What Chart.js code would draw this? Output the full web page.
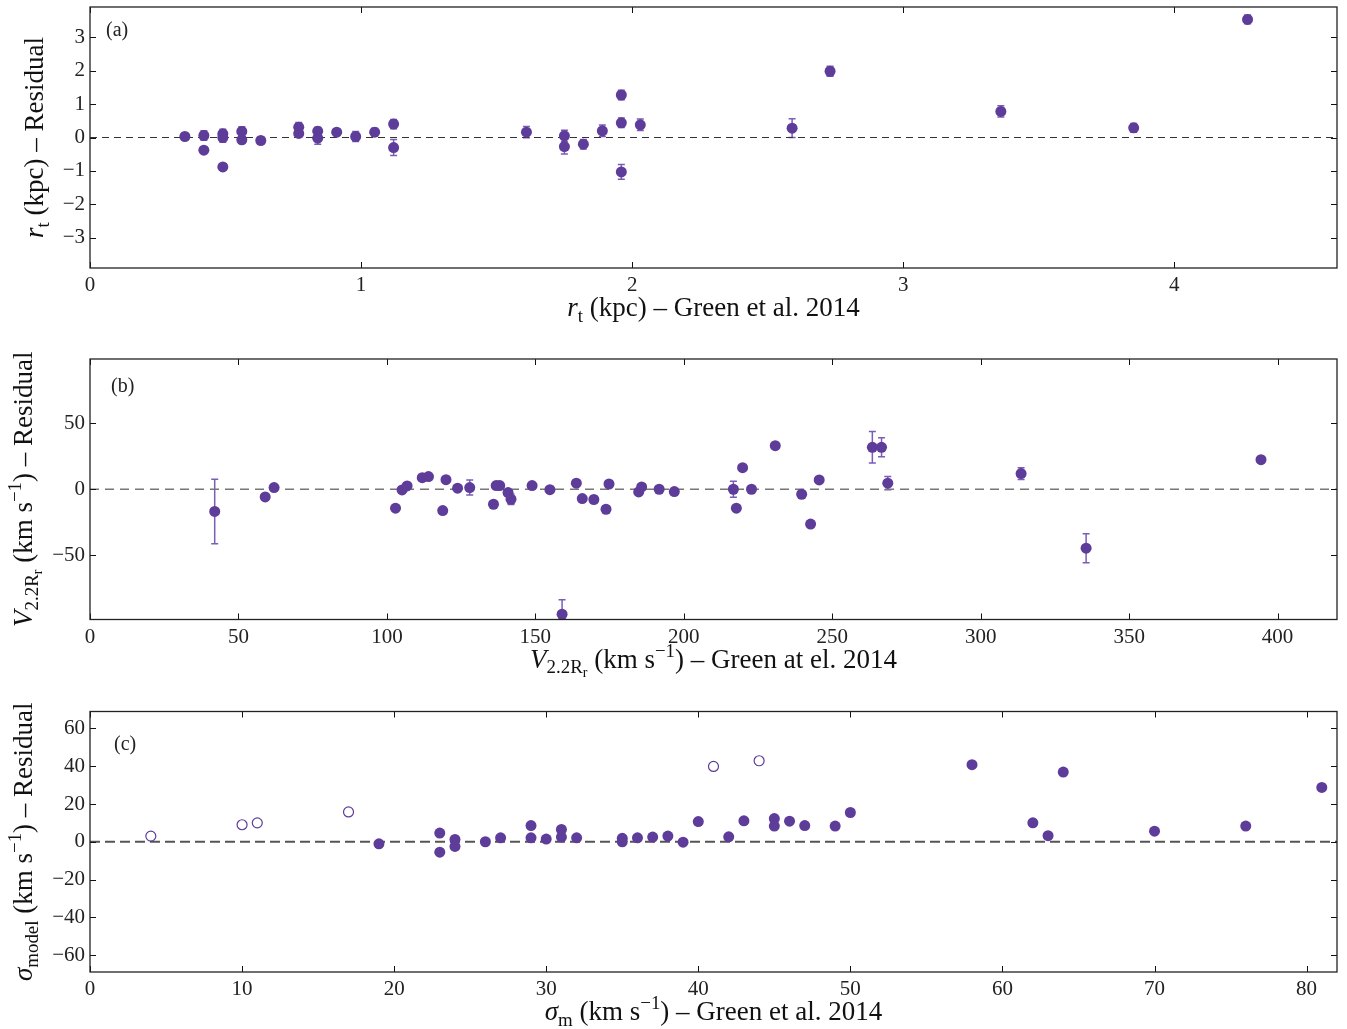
<!DOCTYPE html>
<html>
<head>
<meta charset="utf-8">
<script src="https://cdn.jsdelivr.net/npm/chart.js@4.4.1/dist/chart.umd.min.js"></script>
<style>
  body { margin: 0; background: #fff; }
  #wrap { position: relative; width: 1347px; height: 1029px; }
  canvas { position: absolute; left: 0; }
</style>
</head>
<body>
<div id="wrap">
  <canvas id="chartA" width="1347" height="330" style="top:0px;width:1347px;height:330px"></canvas>
  <canvas id="chartB" width="1347" height="360" style="top:330px;width:1347px;height:360px"></canvas>
  <canvas id="chartC" width="1347" height="339" style="top:690px;width:1347px;height:339px"></canvas>
</div>
<script>
const purple = '#5e3c99';
const errColor = '#7a5db6';
const serif = "'Liberation Serif', 'DejaVu Serif', serif";

// (a) tidal radius
const rtGreen = [0.35, 0.42, 0.42, 0.49, 0.49, 0.49, 0.56, 0.56, 0.63, 0.77, 0.77, 0.84, 0.84, 0.91, 0.98, 1.05, 1.12, 1.12,
                 1.61, 1.75, 1.75, 1.82, 1.89, 1.96, 1.96, 1.96, 2.03, 2.59, 2.73, 3.36, 3.85, 4.27];
const rtResid = [0.03, 0.06, -0.38, 0.11, 0.0, -0.88, 0.18, -0.07, -0.09, 0.31, 0.12, 0.19, -0.02, 0.16, 0.03, 0.16, 0.40, -0.30,
                 0.16, 0.05, -0.27, -0.20, 0.20, 1.27, 0.44, -1.03, 0.38, 0.28, 1.98, 0.78, 0.29, 3.53];
const rtErr   = [0.05, 0.14, 0.08, 0.14, 0.14, 0.08, 0.14, 0.10, 0.10, 0.14, 0.10, 0.12, 0.18, 0.10, 0.15, 0.12, 0.14, 0.24,
                 0.17, 0.17, 0.22, 0.14, 0.17, 0.14, 0.14, 0.22, 0.17, 0.28, 0.15, 0.17, 0.13, 0.13];
const rtXTicks = [0, 1, 2, 3, 4];
const rtYTicks = [-3, -2, -1, 0, 1, 2, 3];

// (b) rotation velocity at 2.2 R_r
const vGreen = [42.0, 59.0, 62.0, 102.9, 105.1, 106.8, 111.9, 114.0, 118.8, 119.9, 123.8, 127.9, 135.9, 136.8, 138.0, 140.8,
                141.8, 148.9, 154.9, 159.0, 163.8, 165.8, 169.7, 173.8, 174.8, 184.8, 185.8, 191.7, 196.8, 216.7, 217.7,
                219.8, 222.8, 230.8, 239.7, 242.7, 245.6, 263.5, 266.6, 268.7, 313.6, 335.5, 394.4];
const vResid = [-16.9, -5.8, 1.3, -14.4, -0.5, 2.5, 8.8, 9.6, -16.2, 7.3, 0.8, 1.3, -11.4, 2.8, 2.8, -2.5,
                -7.6, 2.8, -0.3, -95.0, 4.6, -7.1, -7.8, -15.2, 4.0, -2.0, 1.8, 0.0, -1.8, 0.0, -14.4,
                16.4, 0.0, 33.1, -3.8, -26.5, 7.1, 31.9, 31.9, 4.6, 11.9, -44.8, 22.5];
const vErr   = [24.5, 0, 0, 0, 0, 0, 0, 0, 0, 0, 0, 5.7, 0, 0, 0, 0,
                4.0, 0, 0, 11.0, 0, 0, 0, 0, 0, 0, 0, 0, 0, 6.0, 0,
                0, 0, 0, 0, 0, 0, 11.9, 7.2, 5.0, 4.5, 11.0, 0];
const vXTicks = [0, 50, 100, 150, 200, 250, 300, 350, 400];
const vYTicks = [-50, 0, 50];

// (c) velocity dispersion
const sigGreen = [19, 23, 23, 24, 24, 26, 27, 29, 29, 30, 31, 31, 32, 35, 35, 36, 37, 38, 39, 40, 42, 43, 45, 45,
                  46, 47, 49, 50, 58, 62, 63, 64, 70, 76, 81];
const sigResid = [-1.1, 4.6, -5.5, 1.2, -2.5, 0.0, 2.1, 8.6, 2.1, 1.4, 6.5, 2.5, 2.1, 1.8, 0.0, 2.1, 2.5, 3.0, -0.2, 10.7,
                  2.6, 11.1, 12.3, 8.3, 10.9, 8.6, 8.3, 15.5, 40.8, 10.0, 3.2, 36.9, 5.6, 8.3, 28.8];
const sigOpenGreen = [4, 10, 11, 17, 41, 44];
const sigOpenResid = [3.0, 9.0, 10.0, 15.8, 39.9, 42.9];
const sigXTicks = [0, 10, 20, 30, 40, 50, 60, 70, 80];
const sigYTicks = [-60, -40, -20, 0, 20, 40, 60];

function toPoints(xs, ys) {
  return xs.map((x, i) => ({ x: x, y: ys[i] }));
}

function fmt(v) {
  return String(v).replace('-', '\u2212');
}

// draw text with italic / sub / sup pieces, centred on x
function drawRich(ctx, parts, x, y, size) {
  const pieces = parts.map(p => {
    let fs = size, dy = 0;
    if (p[1] === 'sub') { fs = size * 0.7; dy = size * 0.22; }
    if (p[1] === 'ssub') { fs = size * 0.52; dy = size * 0.36; }
    if (p[1] === 'sup') { fs = size * 0.7; dy = -size * 0.4; }
    const font = (p[1] === 'it' ? 'italic ' : '') + fs.toFixed(1) + 'px ' + serif;
    return { text: p[0], font: font, dy: dy };
  });
  let total = 0;
  pieces.forEach(pc => { ctx.font = pc.font; total += ctx.measureText(pc.text).width; });
  let cx = x - total / 2;
  ctx.textAlign = 'left';
  ctx.textBaseline = 'alphabetic';
  pieces.forEach(pc => {
    ctx.font = pc.font;
    ctx.fillText(pc.text, cx, y + pc.dy);
    cx += ctx.measureText(pc.text).width;
  });
}

function panelPlugin(o) {
  return {
    id: 'panel_' + o.letter,
    beforeDatasetsDraw(chart) {
      const ctx = chart.ctx, xs = chart.scales.x, ys = chart.scales.y, a = chart.chartArea;
      ctx.save();
      ctx.beginPath();
      ctx.rect(a.left, a.top, a.right - a.left, a.bottom - a.top);
      ctx.clip();
      ctx.strokeStyle = errColor;
      ctx.lineWidth = 1.5;
      chart.data.datasets.forEach(ds => {
        if (!ds.errors) return;
        ds.data.forEach((p, i) => {
          const e = ds.errors[i];
          if (!e) return;
          const px = xs.getPixelForValue(p.x);
          const y1 = ys.getPixelForValue(p.y - e), y2 = ys.getPixelForValue(p.y + e);
          ctx.beginPath();
          ctx.moveTo(px, y1); ctx.lineTo(px, y2);
          ctx.moveTo(px - 3.5, y1); ctx.lineTo(px + 3.5, y1);
          ctx.moveTo(px - 3.5, y2); ctx.lineTo(px + 3.5, y2);
          ctx.stroke();
        });
      });
      ctx.restore();
    },
    afterDraw(chart) {
      const ctx = chart.ctx, xs = chart.scales.x, ys = chart.scales.y, a = chart.chartArea;
      ctx.save();
      // inward ticks on all four sides
      ctx.strokeStyle = '#111';
      ctx.lineWidth = 1;
      ctx.beginPath();
      xs.ticks.forEach(t => {
        const px = Math.round(xs.getPixelForValue(t.value)) + 0.5;
        ctx.moveTo(px, a.bottom); ctx.lineTo(px, a.bottom - 6);
        ctx.moveTo(px, a.top); ctx.lineTo(px, a.top + 6);
      });
      ys.ticks.forEach(t => {
        const py = Math.round(ys.getPixelForValue(t.value)) + 0.5;
        ctx.moveTo(a.left, py); ctx.lineTo(a.left + 6, py);
        ctx.moveTo(a.right, py); ctx.lineTo(a.right - 6, py);
      });
      ctx.stroke();
      // frame
      ctx.strokeStyle = '#222';
      ctx.lineWidth = 1.3;
      ctx.strokeRect(a.left, a.top, a.right - a.left, a.bottom - a.top);
      // panel letter
      ctx.fillStyle = '#222';
      ctx.font = '20px ' + serif;
      ctx.textAlign = 'left';
      ctx.textBaseline = 'middle';
      ctx.fillText('(' + o.letter + ')', a.left + o.letterDx, a.top + o.letterDy);
      // axis titles
      ctx.fillStyle = '#111';
      drawRich(ctx, o.xTitle, (a.left + a.right) / 2, a.bottom + 48, 27);
      ctx.translate(o.yTitleX, (a.top + a.bottom) / 2);
      ctx.rotate(-Math.PI / 2);
      drawRich(ctx, o.yTitle, 0, 0, 27);
      ctx.restore();
    }
  };
}

function makePanel(id, o) {
  const zeroLine = {
    type: 'line',
    data: [{ x: o.xMin, y: 0 }, { x: o.xMax, y: 0 }],
    borderColor: o.zero.color,
    borderWidth: o.zero.width,
    borderDash: o.zero.dash,
    pointRadius: 0,
    order: 3
  };
  const datasets = [zeroLine].concat(o.sets);
  const tickFont = { family: serif, size: 21 };
  new Chart(document.getElementById(id).getContext('2d'), {
    type: 'scatter',
    data: { datasets: datasets },
    options: {
      responsive: false,
      animation: false,
      devicePixelRatio: 1,
      layout: { padding: { top: o.padTop, right: 10, left: 0, bottom: 0 } },
      plugins: { legend: { display: false }, tooltip: { enabled: false } },
      scales: {
        x: {
          type: 'linear',
          min: o.xMin, max: o.xMax,
          grid: { display: false, drawTicks: false },
          border: { display: false },
          afterBuildTicks: s => { s.ticks = o.xTicks.map(v => ({ value: v })); },
          afterFit: s => { s.height = o.xAxisH; s.paddingLeft = 0; s.paddingRight = 0; },
          ticks: { color: '#222', font: tickFont, padding: 5, maxRotation: 0, autoSkip: false, callback: v => fmt(v) }
        },
        y: {
          type: 'linear',
          min: o.yMin, max: o.yMax,
          grid: { display: false, drawTicks: false },
          border: { display: false },
          afterBuildTicks: s => { s.ticks = o.yTicks.map(v => ({ value: v })); },
          afterFit: s => { s.width = 90; s.paddingTop = 0; s.paddingBottom = 0; },
          ticks: { color: '#222', font: tickFont, padding: 5, autoSkip: false, callback: v => fmt(v) }
        }
      }
    },
    plugins: [panelPlugin(o)]
  });
}

const filled = (xs, ys, errs) => ({
  data: toPoints(xs, ys),
  errors: errs,
  backgroundColor: purple,
  borderColor: purple,
  borderWidth: 0,
  pointRadius: 5.5,
  order: 1
});

makePanel('chartA', {
  letter: 'a', letterDx: 16, letterDy: 24,
  xMin: 0, xMax: 4.6, yMin: -3.9, yMax: 3.9,
  xTicks: rtXTicks, yTicks: rtYTicks,
  padTop: 7, xAxisH: 62, yTitleX: 43,
  zero: { color: '#333', width: 1.2, dash: [7, 5] },
  sets: [filled(rtGreen, rtResid, rtErr)],
  xTitle: [['r', 'it'], ['t', 'sub'], [' (kpc) \u2013 Green et al. 2014', '']],
  yTitle: [['r', 'it'], ['t', 'sub'], [' (kpc) \u2013 Residual', '']]
});

makePanel('chartB', {
  letter: 'b', letterDx: 21, letterDy: 28,
  xMin: 0, xMax: 420, yMin: -99, yMax: 99,
  xTicks: vXTicks, yTicks: vYTicks,
  padTop: 29, xAxisH: 70.5, yTitleX: 32,
  zero: { color: '#777', width: 1.6, dash: [9, 6] },
  sets: [filled(vGreen, vResid, vErr)],
  xTitle: [['V', 'it'], ['2.2R', 'sub'], ['r', 'ssub'], [' (km s', ''], ['\u22121', 'sup'], [') \u2013 Green at el. 2014', '']],
  yTitle: [['V', 'it'], ['2.2R', 'sub'], ['r', 'ssub'], [' (km s', ''], ['\u22121', 'sup'], [') \u2013 Residual', '']]
});

makePanel('chartC', {
  letter: 'c', letterDx: 24, letterDy: 33,
  xMin: 0, xMax: 82, yMin: -69, yMax: 69,
  xTicks: sigXTicks, yTicks: sigYTicks,
  padTop: 21.5, xAxisH: 57, yTitleX: 32,
  zero: { color: '#555', width: 2, dash: [10, 5] },
  sets: [
    filled(sigGreen, sigResid, null),
    {
      data: toPoints(sigOpenGreen, sigOpenResid),
      backgroundColor: 'rgba(0,0,0,0)',
      borderColor: purple,
      borderWidth: 1.2,
      pointRadius: 5,
      order: 1
    }
  ],
  xTitle: [['\u03c3', 'it'], ['m', 'sub'], [' (km s', ''], ['\u22121', 'sup'], [') \u2013 Green et al. 2014', '']],
  yTitle: [['\u03c3', 'it'], ['model', 'sub'], [' (km s', ''], ['\u22121', 'sup'], [') \u2013 Residual', '']]
});
</script>
</body>
</html>
